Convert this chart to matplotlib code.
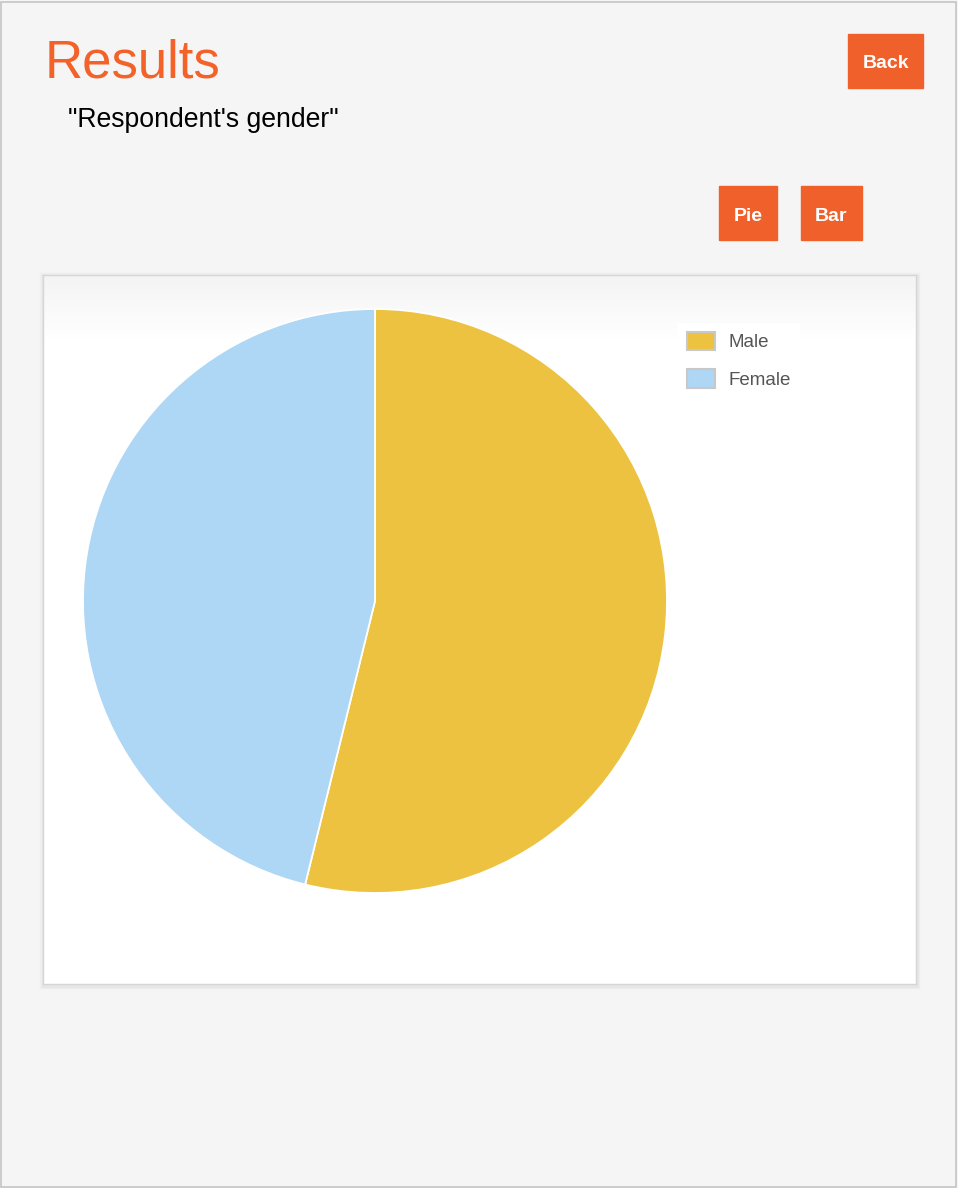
import matplotlib.pyplot as plt
import numpy as np
from matplotlib.patches import Rectangle

# Data
labels = ["Male", "Female"]
counts = [7, 6]
colors = ["#ECC240", "#AED6F5"]

title = "Results"
question = "\"Respondent's gender\""
orange = "#F0602A"

W, H = 958, 1188
plt.rcParams['font.family'] = ['Liberation Sans', 'DejaVu Sans']

fig = plt.figure(figsize=(W / 100, H / 100), dpi=100)
fig.patch.set_facecolor("#F5F5F5")


def fx(x):
    return x / W


def fy(y):
    return 1 - y / H


def box(x0, y0, x1, y1):
    # pixel box (top-left origin) -> figure axes rect
    return [fx(x0), fy(y1), fx(x1 - x0), (y1 - y0) / H]


# page header
fig.text(fx(45), fy(77), title, color="#F26229", fontsize=38, va="baseline")
fig.text(fx(68), fy(127), question, color="black", fontsize=19.2, va="baseline")

# buttons
for text, (x0, y0, x1, y1) in [("Back", (848, 34, 923, 88)),
                              ("Pie", (719, 186, 777, 240)),
                              ("Bar", (801, 186, 862, 240))]:
    fig.patches.append(Rectangle((fx(x0), fy(y1)), fx(x1 - x0), (y1 - y0) / H,
                                 transform=fig.transFigure, color=orange))
    fig.text(fx((x0 + x1) / 2), fy((y0 + y1) / 2 + 3), text, color="white",
             fontsize=14, fontweight="bold", ha="center", va="center")

# chart panel with shadow and top gradient
for off, c in [(3, "#EFEFEF"), (1.5, "#E6E6E6")]:
    fig.patches.append(Rectangle((fx(43 - off), fy(984 + off + 1)), fx(873 + 2 * off),
                                 (709 + 2 * off) / H, transform=fig.transFigure,
                                 color=c, zorder=-2))
panel = fig.add_axes(box(43, 275, 916, 984))
grad = np.ones((709, 1, 3))
top = np.linspace(0.955, 1.0, 65)
grad[:65, 0, :] = top[:, None]
panel.imshow(grad, aspect="auto", extent=[0, 1, 0, 1], interpolation="bilinear")
panel.set_xticks([])
panel.set_yticks([])
for s in panel.spines.values():
    s.set_color("#D6D6D6")
    s.set_linewidth(1)

# pie
ax = fig.add_axes(box(83, 309, 667, 893))
ax.set_facecolor("none")
wedges, _ = ax.pie(counts, colors=colors, startangle=90, counterclock=False,
                   radius=1, wedgeprops=dict(edgecolor="white", linewidth=1.3))
ax.set_xlim(-1, 1)
ax.set_ylim(-1, 1)
ax.set_aspect("equal")
ax.axis("off")

# legend
leg = ax.legend(wedges, labels, loc="upper left",
                bbox_to_anchor=(fx(669), fy(314)), bbox_transform=fig.transFigure,
                frameon=True, fancybox=False, framealpha=1, edgecolor="white",
                fontsize=13.5, handlelength=1.5, handleheight=1.15,
                labelspacing=0.95, handletextpad=0.7, borderpad=0.45)
for t in leg.get_texts():
    t.set_color("#555555")
for p in leg.get_patches():
    p.set_edgecolor("#C8C8C8")
    p.set_linewidth(1.5)

# page frame
fig.patches.append(Rectangle((0.001, 0.001), 0.997, 0.997, transform=fig.transFigure,
                             fill=False, edgecolor="#C4C4C4", linewidth=1.2))

fig.savefig("out.png", dpi=100, facecolor=fig.get_facecolor())
